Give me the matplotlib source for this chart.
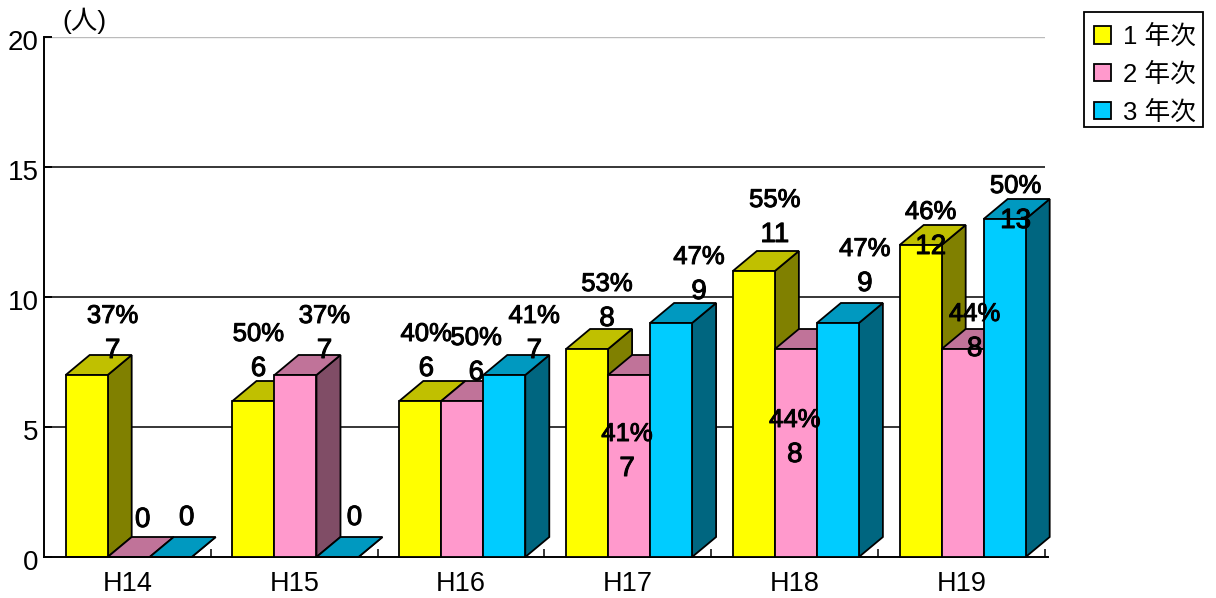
import numpy as np
import matplotlib
matplotlib.use('Agg')
import matplotlib.pyplot as plt
from matplotlib.patches import Polygon, Patch, Rectangle
from matplotlib.transforms import ScaledTranslation
import matplotlib.patheffects as pe

categories = ['H14', 'H15', 'H16', 'H17', 'H18', 'H19']
series_names = ['1 年次', '2 年次', '3 年次']

first_year = [7, 6, 6, 8, 11, 12]
second_year = [0, 7, 6, 7, 8, 8]
third_year = [0, 0, 7, 9, 9, 13]

first_pct = ['37%', '50%', '40%', '53%', '55%', '46%']
second_pct = ['', '37%', '50%', '41%', '44%', '44%']
third_pct = ['', '', '41%', '47%', '47%', '50%']

# face, top, side
first_colors = ('#FFFF00', '#C0C000', '#808000')
second_colors = ('#FF99CC', '#C07399', '#804D66')
third_colors = ('#00CCFF', '#0099C0', '#006680')

# hand placed label offsets in the original, px from bar centre / bar top
first_off = [(26, 24), (5, 32), (6, 32), (20, 30), (21, 36), (10, -2)]
second_off = [(14, 37), (29, 24), (14, 28), (-2, -94), (-1, -106), (12, 0)]
third_off = [(16, 39), (17, 39), (30, 24), (28, 31), (27, 39), (11, -2)]

W, H = 1216, 598
BAR_W = 0.2518
GROUP_PAD = 0.13
DEPTH_X = 24 / 166.8
DEPTH_Y = 20 / 26.0

plt.rcParams['font.family'] = ['Liberation Sans', 'Noto Sans CJK JP']

fig = plt.figure(figsize=(W / 100, H / 100), dpi=100)
ax = fig.add_axes([44 / W, 1 - 557 / H, 1000.8 / W, 520 / H])
ax.set_xlim(0, 6)
ax.set_ylim(0, 20)
ax.patch.set_visible(False)
for s in ['top', 'right']:
    ax.spines[s].set_visible(False)
ax.spines['left'].set_linewidth(1.4)
ax.spines['bottom'].set_linewidth(1.4)
ax.spines['bottom'].set_bounds(0, 6.02)

ax.set_yticks([0, 5, 10, 15, 20])
ax.tick_params(axis='y', direction='in', length=6, width=1.4, labelsize=20, pad=4)
shift_down = ScaledTranslation(0, -3.5 / 100, fig.dpi_scale_trans)
for lab in ax.get_yticklabels():
    lab.set_transform(lab.get_transform() + shift_down)
ax.set_xticks(range(1, 7))
ax.set_xticklabels([])
ax.tick_params(axis='x', direction='in', length=6, width=1.1)
ax.set_xticks(np.arange(6) + 0.5, labels=categories, minor=True)
ax.tick_params(axis='x', which='minor', length=0, labelsize=19.5, pad=10)

for v in [5, 10, 15]:
    ax.plot([0, 6], [v, v], color='black', lw=1.1, zorder=1)
ax.plot([0, 6], [20, 20], color='#BBBBBB', lw=1.0, zorder=1)
ax.plot([0, 6], [20.085, 20.085], color='#BBBBBB', lw=1.0, zorder=1)


def draw_bar(left, value, colors, z):
    right = left + BAR_W
    front = [(left, 0), (right, 0), (right, value), (left, value)]
    top = [(left, value), (right, value), (right + DEPTH_X, value + DEPTH_Y), (left + DEPTH_X, value + DEPTH_Y)]
    side = [(right, 0), (right + DEPTH_X, DEPTH_Y), (right + DEPTH_X, value + DEPTH_Y), (right, value)]
    for pts, col in ((side, colors[2]), (top, colors[1]), (front, colors[0])):
        ax.add_patch(Polygon(pts, closed=True, facecolor=col, edgecolor='black', lw=1.3, zorder=z, joinstyle='miter', clip_on=False))


all_series = [
    (first_year, first_pct, first_colors, first_off),
    (second_year, second_pct, second_colors, second_off),
    (third_year, third_pct, third_colors, third_off),
]

for i in range(len(categories)):
    for j, (vals, pcts, cols, offs) in enumerate(all_series):
        draw_bar(i + GROUP_PAD + j * BAR_W, vals[i], cols, 2 + i + j * 0.1)

stroke = [pe.withStroke(linewidth=0.7, foreground='black')]
for i in range(len(categories)):
    for j, (vals, pcts, cols, offs) in enumerate(all_series):
        cx = i + GROUP_PAD + (j + 0.5) * BAR_W
        dx, dy = offs[i]
        ax.annotate(str(vals[i]), (cx, vals[i]), xytext=(dx, dy), textcoords='offset pixels',
                    ha='center', va='center', fontsize=20, zorder=20, path_effects=stroke)
        if pcts[i]:
            ax.annotate(pcts[i], (cx, vals[i]), xytext=(dx, dy + 35), textcoords='offset pixels',
                        ha='center', va='center', fontsize=18.5, zorder=20, path_effects=stroke)

fig.text(84 / W, 1 - 21 / H, '(人)', ha='center', va='center', fontsize=19)

# legend box drawn apart, the rows sit low in it
fig.add_artist(Rectangle((1084 / W, 1 - 127 / H), 118.5 / W, 115 / H, transform=fig.transFigure,
                         facecolor='white', edgecolor='black', lw=1.3))
handles = [Patch(facecolor=c[0], edgecolor='black', lw=1.3) for c in (first_colors, second_colors, third_colors)]
fig.legend(handles, series_names, loc='upper left', bbox_to_anchor=(1086.5 / W, 1 - 17 / H),
           borderaxespad=0, frameon=False,
           fontsize=18.5, handlelength=0.66, handleheight=0.66, handletextpad=0.47,
           labelspacing=0.53, borderpad=0.3)

fig.savefig('out.png', dpi=100)
